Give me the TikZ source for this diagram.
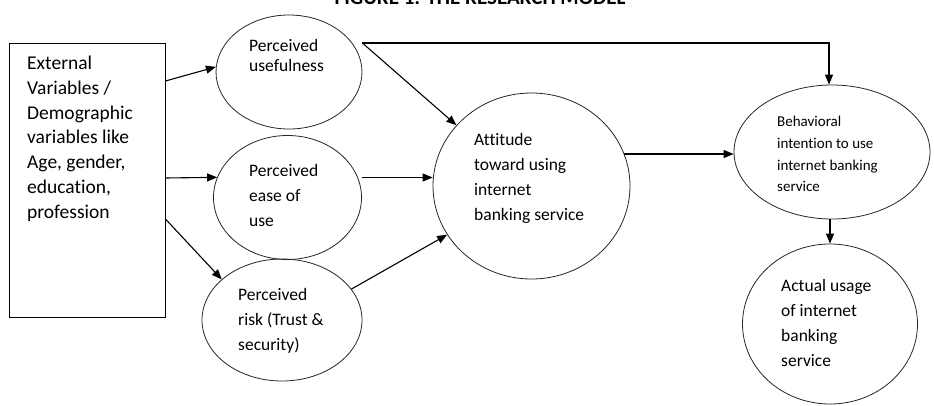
\documentclass[tikz,border=0pt]{standalone}
\usepackage{fontspec}
\setmainfont[Ligatures=NoCommon]{Carlito}
\usetikzlibrary{arrows.meta,shapes.geometric}
\begin{document}
\begin{tikzpicture}[x=1pt,y=-1pt,
  arr/.style={line width=1.1pt,-{Triangle[length=10pt,width=8pt]}},
  ell/.style={draw=black!85,line width=0.8pt,ellipse,inner sep=0},
  txt/.style={anchor=base west,inner sep=0,align=left,font={\fontsize{17.5}{25}\selectfont}},
  smalltxt/.style={txt,font={\fontsize{15}{21.7}\selectfont}},
  boxtxt/.style={txt,font={\fontsize{19.5}{24.7}\selectfont}},
  rect/.style={draw,line width=0.9pt,inner sep=0}
 ]
\useasboundingbox (0,0) rectangle (934,405);
% title (clipped at top, as in the reference)
\node[anchor=base,inner sep=0,font={\fontsize{21}{24}\selectfont\bfseries}] (title) at (480,4) {FIGURE 1: THE RESEARCH MODEL};
% shapes
\node[rect,minimum width=156pt,minimum height=274pt] (box) at (87,180) {};
\node[ell,minimum width=146pt,minimum height=114pt] (U) at (289,72) {};
\node[ell,minimum width=148pt,minimum height=124pt] (E) at (287.5,197.5) {};
\node[ell,minimum width=160pt,minimum height=122pt] (R) at (282,320) {};
\node[ell,minimum width=197pt,minimum height=186pt] (A) at (531.5,186) {};
\node[ell,minimum width=196pt,minimum height=134pt] (B) at (832,152) {};
\node[ell,minimum width=175pt,minimum height=160pt] (C) at (830,324) {};
% texts (anchored at the baseline of their last line)
\node[boxtxt] (tbox) at (27,218) {External\\Variables /\\Demographic\\variables like\\Age, gender,\\education,\\profession};
\node[txt,font={\fontsize{17.5}{20.5}\selectfont}] (tU) at (249,71.5) {Perceived\\usefulness};
\node[txt] (tE) at (249,226.7) {Perceived\\ease of\\use};
\node[txt] (tR) at (238,350.7) {Perceived\\risk (Trust \&\\security)};
\node[txt] (tA) at (474,220) {Attitude\\toward using\\internet\\banking service};
\node[smalltxt] (tB) at (777,191.8) {Behavioral\\intention to use\\internet banking\\service};
\node[txt] (tC) at (781,366.7) {Actual usage\\of internet\\banking\\service};
% connectors
\coordinate (uo) at ([yshift=29pt]U.east);
\draw[arr] ([yshift=99pt]box.east) -- (U.176);
\draw[arr] ([yshift=2pt]box.east) -- (E.164);
\draw[arr] ([yshift=-39pt]box.east) -- (R.146);
\draw[arr] (uo) -- (A.141);
\draw[arr] (uo) -| ([xshift=-3pt]B.north);
\draw[arr] ([yshift=20pt]E.east) -- ([yshift=20pt]E.east -| A.west);
\draw[arr] (R.24) -- (A.210);
\draw[arr] (A.19) -- (A.19 -| B.west);
\draw[arr] ([xshift=-2pt]B.south) -- (C.north);
\end{tikzpicture}
\end{document}
